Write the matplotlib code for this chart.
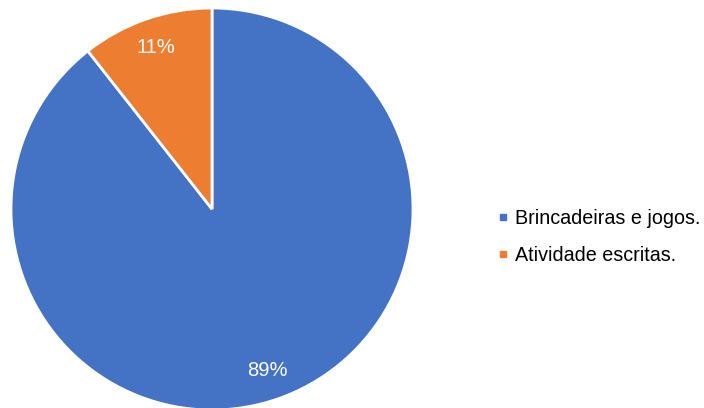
import matplotlib
matplotlib.use("Agg")
import matplotlib.pyplot as plt
from matplotlib.lines import Line2D

plt.rcParams['font.family'] = ['Liberation Sans', 'DejaVu Sans']

categories = ["Brincadeiras e jogos.", "Atividade escritas."]
values = [89.4, 10.6]
colors = ["#4472C4", "#ED7D31"]

fig = plt.figure(figsize=(7.04, 4.08), dpi=100)
ax = fig.add_axes([11/704, -2/408, 402/704, 402/408])
wedges, texts, autotexts = ax.pie(
    values, colors=colors, startangle=90, counterclock=False,
    autopct=lambda p: f"{p:.0f}%", pctdistance=0.85,
    wedgeprops=dict(edgecolor="white", linewidth=2),
    textprops=dict(color="white", fontsize=14.5))
ax.set_xlim(-1, 1)
ax.set_ylim(-1, 1)
ax.set_aspect("equal")

handles = [Line2D([0], [0], marker='s', linestyle='none', markersize=5,
                  markerfacecolor=c, markeredgecolor=c) for c in colors]
fig.legend(handles, categories, loc="center left",
           bbox_to_anchor=(488/704, 1 - 237/408), frameon=False,
           fontsize=14.2, handlelength=0.5, handletextpad=0.35,
           labelspacing=0.95, borderpad=0)

fig.savefig("out.png", dpi=100)
